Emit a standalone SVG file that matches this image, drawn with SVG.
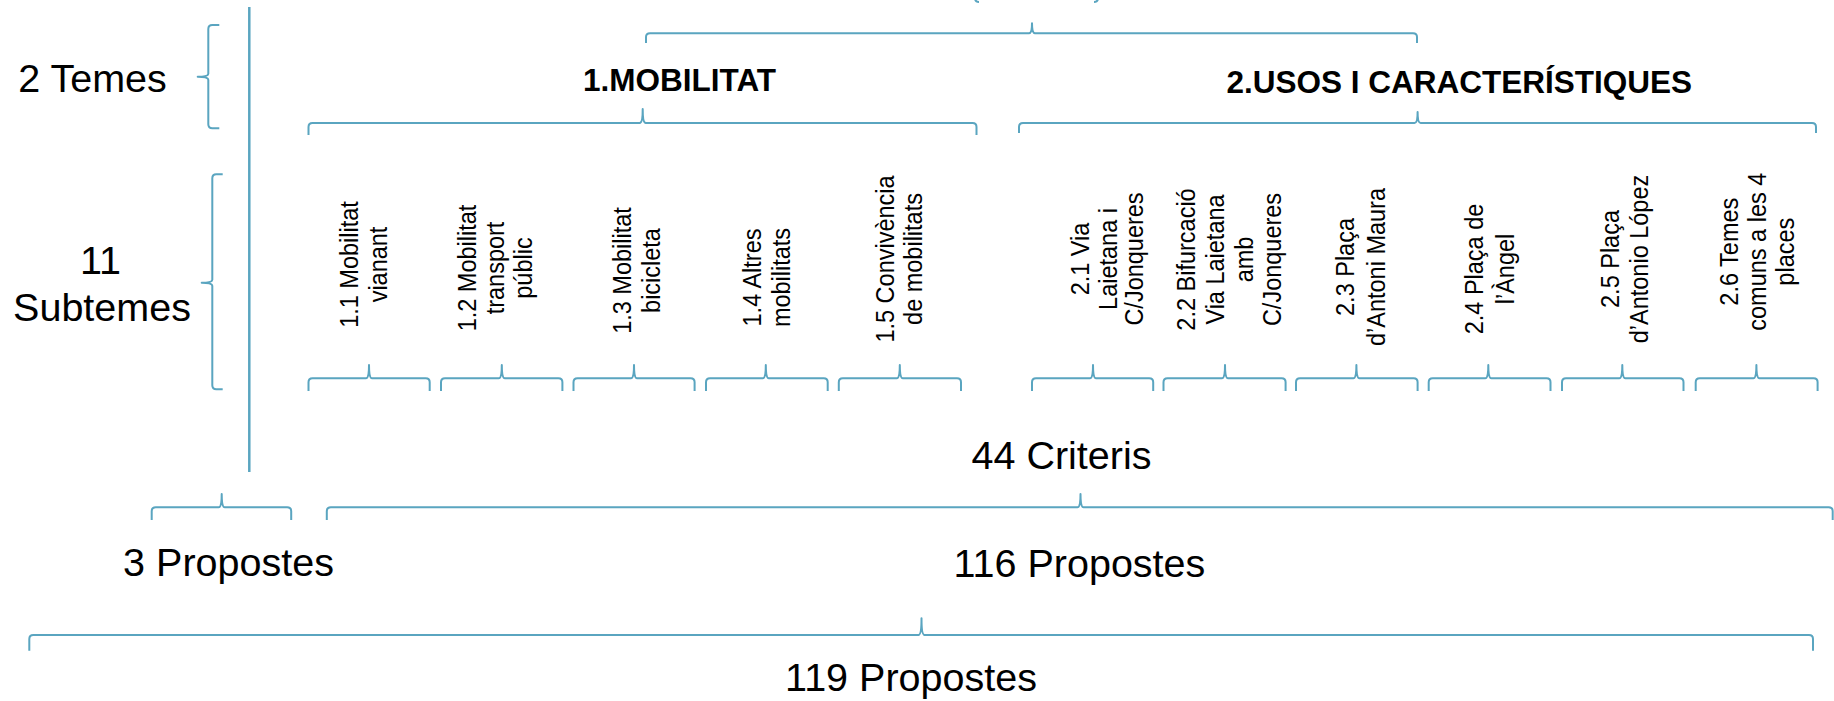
<svg xmlns="http://www.w3.org/2000/svg" width="1834" height="701" viewBox="0 0 1834 701">
<style>
.br{fill:none;stroke:#5AA5C0;stroke-width:2;stroke-linecap:butt;stroke-linejoin:round}
.vl{fill:none;stroke:#5AA5C0;stroke-width:2.5}
.t{font-family:"Liberation Sans",Arial,sans-serif;fill:#000}
.big{font-size:39.5px}
.ttl{font-size:31.5px;font-weight:bold}
.sub{font-size:25px}
</style>
<rect width="1834" height="701" fill="#fff"/>
<g id="connectors">
  <line class="vl" x1="249.3" y1="7" x2="249.3" y2="472"/>
  <path class="br" d="M975 -6 L975 -2 Q975 2 979 2 M1098 -6 L1098 -2 Q1098 2 1094 2"/>
  <path class="br" d="M646 43 L646 37 Q646 33.3 650 33.3 L1029 33.3 Q1032 33.3 1032 23.3 Q1032 33.3 1035 33.3 L1413 33.3 Q1417 33.3 1417 37 L1417 43"/>
  <path class="br" d="M308.5 135 L308.5 127 Q308.5 123 312.5 123 L639.7 123 Q642.7 123 642.7 109 Q642.7 123 645.7 123 L972.5 123 Q976.5 123 976.5 127 L976.5 135"/>
  <path class="br" d="M1019 133 L1019 127 Q1019 123 1023 123 L1414.6 123 Q1417.6 123 1417.6 112 Q1417.6 123 1420.6 123 L1812 123 Q1816 123 1816 127 L1816 133"/>
  <path class="br" d="M219.3 25 L212.3 25 Q208.3 25 208.3 29 L208.3 73.7 Q208.3 76.7 197.7 76.7 Q208.3 76.7 208.3 79.7 L208.3 124.3 Q208.3 128.3 212.3 128.3 L219.3 128.3"/>
  <path class="br" d="M222.7 174.3 L216.3 174.3 Q212.3 174.3 212.3 178.3 L212.3 279.7 Q212.3 282.7 201.7 282.7 Q212.3 282.7 212.3 285.7 L212.3 385.3 Q212.3 389.3 216.3 389.3 L222.7 389.3"/>
  <path class="br" d="M308.5 391 L308.5 382.3 Q308.5 378.3 312.5 378.3 L366 378.3 Q369 378.3 369 365 Q369 378.3 372 378.3 L425.7 378.3 Q429.7 378.3 429.7 382.3 L429.7 391"/>
  <path class="br" d="M441 391 L441 382.3 Q441 378.3 445 378.3 L498.8 378.3 Q501.8 378.3 501.8 365 Q501.8 378.3 504.8 378.3 L558.4 378.3 Q562.4 378.3 562.4 382.3 L562.4 391"/>
  <path class="br" d="M573.5 391 L573.5 382.3 Q573.5 378.3 577.5 378.3 L631 378.3 Q634 378.3 634 365 Q634 378.3 637 378.3 L690.6 378.3 Q694.6 378.3 694.6 382.3 L694.6 391"/>
  <path class="br" d="M706 391 L706 382.3 Q706 378.3 710 378.3 L762.8 378.3 Q765.8 378.3 765.8 365 Q765.8 378.3 768.8 378.3 L823.7 378.3 Q827.7 378.3 827.7 382.3 L827.7 391"/>
  <path class="br" d="M838.8 391 L838.8 382.3 Q838.8 378.3 842.8 378.3 L896.8 378.3 Q899.8 378.3 899.8 365 Q899.8 378.3 902.8 378.3 L957 378.3 Q961 378.3 961 382.3 L961 391"/>
  <path class="br" d="M1032 391 L1032 382.3 Q1032 378.3 1036 378.3 L1090 378.3 Q1093 378.3 1093 365 Q1093 378.3 1096 378.3 L1149.2 378.3 Q1153.2 378.3 1153.2 382.3 L1153.2 391"/>
  <path class="br" d="M1163.5 391 L1163.5 382.3 Q1163.5 378.3 1167.5 378.3 L1222 378.3 Q1225 378.3 1225 365 Q1225 378.3 1228 378.3 L1281.6 378.3 Q1285.6 378.3 1285.6 382.3 L1285.6 391"/>
  <path class="br" d="M1296 391 L1296 382.3 Q1296 378.3 1300 378.3 L1353.4 378.3 Q1356.4 378.3 1356.4 365 Q1356.4 378.3 1359.4 378.3 L1413.6 378.3 Q1417.6 378.3 1417.6 382.3 L1417.6 391"/>
  <path class="br" d="M1428.7 391 L1428.7 382.3 Q1428.7 378.3 1432.7 378.3 L1485.3 378.3 Q1488.3 378.3 1488.3 365 Q1488.3 378.3 1491.3 378.3 L1546.5 378.3 Q1550.5 378.3 1550.5 382.3 L1550.5 391"/>
  <path class="br" d="M1562 391 L1562 382.3 Q1562 378.3 1566 378.3 L1619.3 378.3 Q1622.3 378.3 1622.3 365 Q1622.3 378.3 1625.3 378.3 L1679.5 378.3 Q1683.5 378.3 1683.5 382.3 L1683.5 391"/>
  <path class="br" d="M1695.7 391 L1695.7 382.3 Q1695.7 378.3 1699.7 378.3 L1753.4 378.3 Q1756.4 378.3 1756.4 365 Q1756.4 378.3 1759.4 378.3 L1813.6 378.3 Q1817.6 378.3 1817.6 382.3 L1817.6 391"/>
  <path class="br" d="M151.7 520 L151.7 511.3 Q151.7 507.3 155.7 507.3 L218.7 507.3 Q221.7 507.3 221.7 494 Q221.7 507.3 224.7 507.3 L287.2 507.3 Q291.2 507.3 291.2 511.3 L291.2 520"/>
  <path class="br" d="M326.8 520 L326.8 511.3 Q326.8 507.3 330.8 507.3 L1077.5 507.3 Q1080.5 507.3 1080.5 494 Q1080.5 507.3 1083.5 507.3 L1828.7 507.3 Q1832.7 507.3 1832.7 511.3 L1832.7 520"/>
  <path class="br" d="M29.3 650.7 L29.3 639 Q29.3 635 33.3 635 L918.5 635 Q921.5 635 921.5 618.3 Q921.5 635 924.5 635 L1809 635 Q1813 635 1813 639 L1813 650.7"/>
</g>
<g id="label-temes"><text class="t big" x="92.5" y="92.3" text-anchor="middle">2 Temes</text></g>
<g id="label-subtemes"><text class="t big" text-anchor="middle"><tspan x="100.5" y="274">11</tspan><tspan x="102" y="320.7">Subtemes</tspan></text></g>
<g id="theme-1"><text class="t ttl" x="679.5" y="90.5" text-anchor="middle">1.MOBILITAT</text></g>
<g id="theme-2"><text class="t ttl" x="1459.3" y="92.5" text-anchor="middle">2.USOS I CARACTERÍSTIQUES</text></g>
<g id="sub-1-1"><text class="t sub" text-anchor="middle" transform="translate(0 264.5) rotate(-90) scale(0.94 1)"><tspan x="0" y="358">1.1 Mobilitat</tspan><tspan x="0" y="387">vianant</tspan></text></g>
<g id="sub-1-2"><text class="t sub" text-anchor="middle" transform="translate(0 268) rotate(-90) scale(0.94 1)"><tspan x="0" y="476">1.2 Mobilitat</tspan><tspan x="0" y="504">transport</tspan><tspan x="0" y="532">públic</tspan></text></g>
<g id="sub-1-3"><text class="t sub" text-anchor="middle" transform="translate(0 270.5) rotate(-90) scale(0.94 1)"><tspan x="0" y="631">1.3 Mobilitat</tspan><tspan x="0" y="660">bicicleta</tspan></text></g>
<g id="sub-1-4"><text class="t sub" text-anchor="middle" transform="translate(0 277.5) rotate(-90) scale(0.94 1)"><tspan x="0" y="761">1.4 Altres</tspan><tspan x="0" y="790">mobilitats</tspan></text></g>
<g id="sub-1-5"><text class="t sub" text-anchor="middle" transform="translate(0 259) rotate(-90) scale(0.94 1)"><tspan x="0" y="894">1.5 Convivència</tspan><tspan x="0" y="922">de mobilitats</tspan></text></g>
<g id="sub-2-1"><text class="t sub" text-anchor="middle" transform="translate(0 259) rotate(-90) scale(0.94 1)"><tspan x="0" y="1089.5">2.1 Via</tspan><tspan x="0" y="1117.5">Laietana i</tspan><tspan x="0" y="1143">C/Jonqueres</tspan></text></g>
<g id="sub-2-2"><text class="t sub" text-anchor="middle" transform="translate(0 259.5) rotate(-90) scale(0.94 1)"><tspan x="0" y="1195">2.2 Bifurcació</tspan><tspan x="0" y="1224">Via Laietana</tspan><tspan x="0" y="1253">amb</tspan><tspan x="0" y="1281">C/Jonqueres</tspan></text></g>
<g id="sub-2-3"><text class="t sub" text-anchor="middle" transform="translate(0 267) rotate(-90) scale(0.94 1)"><tspan x="0" y="1354">2.3 Plaça</tspan><tspan x="0" y="1385">d’Antoni Maura</tspan></text></g>
<g id="sub-2-4"><text class="t sub" text-anchor="middle" transform="translate(0 269) rotate(-90) scale(0.94 1)"><tspan x="0" y="1483">2.4 Plaça de</tspan><tspan x="0" y="1514">l’Àngel</tspan></text></g>
<g id="sub-2-5"><text class="t sub" text-anchor="middle" transform="translate(0 259) rotate(-90) scale(0.94 1)"><tspan x="0" y="1619">2.5 Plaça</tspan><tspan x="0" y="1648">d’Antonio López</tspan></text></g>
<g id="sub-2-6"><text class="t sub" text-anchor="middle" transform="translate(0 251.7) rotate(-90) scale(0.94 1)"><tspan x="0" y="1738">2.6 Temes</tspan><tspan x="0" y="1766">comuns a les 4</tspan><tspan x="0" y="1794">places</tspan></text></g>
<g id="label-criteris"><text class="t big" x="1061.5" y="469" text-anchor="middle">44 Criteris</text></g>
<g id="label-3"><text class="t big" x="228.5" y="576" text-anchor="middle">3 Propostes</text></g>
<g id="label-116"><text class="t big" x="1079.4" y="576.5" text-anchor="middle">116 Propostes</text></g>
<g id="label-119"><text class="t big" x="911" y="691" text-anchor="middle">119 Propostes</text></g>
</svg>
